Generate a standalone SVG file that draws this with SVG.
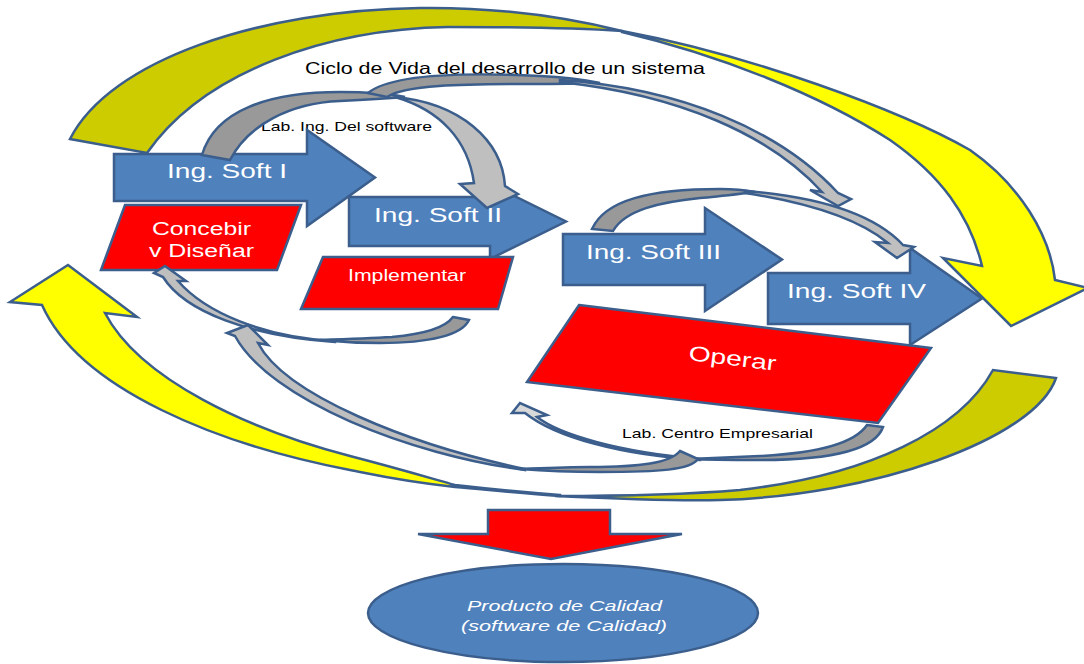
<svg xmlns="http://www.w3.org/2000/svg" width="1084" height="664" viewBox="0 0 1084 664">
<style>
.ol{stroke:#3B5E8C;stroke-width:2.5;stroke-linejoin:miter}
.blue{fill:#4F81BD}
.red{fill:#FF0000}
.yel{fill:#FFFF00}
.olive{fill:#CCCC00}
.gd{fill:#999999}
.gl{fill:#BFBFBF}
.gx{fill:#D9D9D9}
.wt{font-family:"Liberation Sans",Arial,sans-serif;fill:#FFFFFF}
.bt{font-family:"Liberation Sans",Arial,sans-serif;fill:#000000}
</style>
<rect width="1084" height="664" fill="#FFFFFF"/>

<g id="cycle-arrows">
  <!-- big top arrow -->
  <path class="ol olive" d="M70,139 C110,60 260,10 420,8 C500,7 570,18 622,31 C560,27 500,27 448,27 C330,29 205,70 147,153 Z"/>
  <path class="ol yel" d="M622,31 C750,55 900,110 970,150 C1020,185 1050,235 1055,280 L1088,288 L1011,326 L943,258 L982,266 C970,215 940,175 890,140 C820,95 720,55 622,32 Z"/>
  <!-- big bottom arrow -->
  <path class="ol olive" d="M555,496 C620,499 680,501 720,500 C870,496 1035,440 1056,378 L993,370 C960,430 870,475 740,490 C680,495 620,496 555,496 Z"/>
  <path class="ol yel" d="M560,496 C520,493 490,490 455,487 C400,481 380,476 350,470 C220,445 80,390 42,305 L10,302 L68,265 L137,317 L105,313 C140,380 250,430 350,456 C400,469 430,478 455,485 C490,489 520,492 560,495 Z"/>
</g>

<g id="title">
  <text class="bt" x="305" y="74" font-size="16.5" textLength="400" lengthAdjust="spacingAndGlyphs">Ciclo de Vida del desarrollo de un sistema</text>
</g>
<g id="lab-ing">
  <text class="bt" x="261" y="131" font-size="13.5" textLength="171" lengthAdjust="spacingAndGlyphs">Lab. Ing. Del software</text>
</g>

<g id="ing-soft-1">
  <path class="ol blue" d="M114,154 H307 V130 L375,177.5 L307,226 V201 H114 Z"/>
  <text class="wt" x="167" y="178" font-size="21" textLength="120" lengthAdjust="spacingAndGlyphs">Ing. Soft I</text>
</g>
<g id="ing-soft-2">
  <path class="ol blue" d="M349,197 H490 V184 L566,221.5 L490,259 V246 H349 Z"/>
  <text class="wt" x="374" y="222" font-size="21" textLength="128" lengthAdjust="spacingAndGlyphs">Ing. Soft II</text>
</g>
<g id="ing-soft-3">
  <path class="ol blue" d="M563,234 H705 V208 L782,259.5 L705,311 V285 H563 Z"/>
  <text class="wt" x="586" y="259" font-size="21" textLength="135" lengthAdjust="spacingAndGlyphs">Ing. Soft III</text>
</g>
<g id="ing-soft-4">
  <path class="ol blue" d="M768,273 H910 V248 L982,298.5 L910,345 V324 H768 Z"/>
  <text class="wt" x="787" y="298" font-size="21" textLength="139" lengthAdjust="spacingAndGlyphs">Ing. Soft IV</text>
</g>

<g id="concebir">
  <path class="ol red" d="M125,205 H301 L277,270 H101 Z"/>
  <text class="wt" x="152" y="235" font-size="18" textLength="99" lengthAdjust="spacingAndGlyphs">Concebir</text>
  <text class="wt" x="149" y="257" font-size="18" textLength="105" lengthAdjust="spacingAndGlyphs">v Diseñar</text>
</g>
<g id="implementar">
  <path class="ol red" d="M323,257 H513 L498,309 H301 Z"/>
  <text class="wt" x="348" y="281" font-size="16" textLength="118" lengthAdjust="spacingAndGlyphs">Implementar</text>
</g>
<g id="operar">
  <path class="ol red" d="M579,305 L931,348 L878,423 L527,382 Z"/>
  <text class="wt" x="688" y="360" font-size="21" textLength="88" lengthAdjust="spacingAndGlyphs" transform="rotate(7 688 360)">Operar</text>
</g>

<g id="connectors">
  <!-- Lab. Ing. Del software arrow: Ing Soft I to Ing Soft II -->
  <path class="ol gd" d="M202,155 C215,110 270,92 340,92 C370,92 390,94 405,97 C380,99 360,100 340,101 C290,103 248,125 230,160 Z"/>
  <path class="ol gl" d="M395,97 C460,103 502,140 505,186 L518,194 L487,208 L460,184 L474,183 C468,140 440,110 395,97 Z"/>
  <!-- top long arrow to Ing Soft IV -->
  <path class="ol gd" d="M368,93 C390,75 460,72 540,76 C560,77 580,79 600,83 C570,84 550,84 530,84 C460,84 405,85 387,97 Z"/>
  <path class="ol gl" d="M560,80 C680,88 780,130 838,193 L851,199 L838,206 L810,190 L822,192 C770,135 680,95 560,82 Z"/>
  <!-- Ing Soft III to Ing Soft IV -->
  <path class="ol gd" d="M592,229 C605,200 650,189 720,189 C735,189 745,190 755,192 C730,195 715,197 700,198 C660,202 625,210 613,231 Z"/>
  <path class="ol gl" d="M745,191 C820,197 875,215 903,245 L914,247 L897,258 L875,242 L888,243 C860,220 810,203 745,193 Z"/>
  <!-- Implementar back to Concebir -->
  <path class="ol gd" d="M453,317 L469,320 C462,335 430,343 380,343 C360,343 340,342 320,340 C350,339 375,338 392,337 C425,334 445,328 453,317 Z"/>
  <path class="ol gl" d="M335,341 C262,337 205,312 178,281 L186,281 L165,266 L154,273 L163,277 C185,312 250,336 335,342 Z"/>
  <!-- long bottom arrow back -->
  <path class="ol gl" d="M525,469 C410,445 285,395 258,343 L268,345 L248,325 L227,333 L235,336 C270,400 410,455 525,470 Z"/>
  <!-- Lab Centro Empresarial arrow -->
  <path class="ol gd" d="M867,425 L883,427 C875,450 830,460 760,460 C735,460 710,460 690,459 C715,458 740,457 760,456 C820,453 855,443 867,425 Z"/>
  <path class="ol gx" d="M700,459 C620,452 560,435 537,417 L547,415 L520,403 L512,413 L525,413 C555,437 620,455 700,460 Z"/>
  <path class="ol gd" d="M680,451 L698,459 C690,470 660,472 600,472 C570,472 545,471 520,469 C545,468 565,467 590,467 C640,467 670,463 680,451 Z"/>
</g>

<g id="lab-centro">
  <text class="bt" x="622" y="438" font-size="13.5" textLength="191" lengthAdjust="spacingAndGlyphs">Lab. Centro Empresarial</text>
</g>

<g id="down-arrow">
  <path class="ol red" d="M488,510 H610 V534 H682 L551,559 L418,534 H488 Z"/>
</g>
<g id="producto">
  <ellipse class="ol blue" cx="563" cy="613" rx="195" ry="49"/>
  <text class="wt" x="467" y="611" font-size="15.5" font-style="italic" textLength="195" lengthAdjust="spacingAndGlyphs">Producto de Calidad</text>
  <text class="wt" x="461" y="631" font-size="15.5" font-style="italic" textLength="206" lengthAdjust="spacingAndGlyphs">(software de Calidad)</text>
</g>
</svg>
